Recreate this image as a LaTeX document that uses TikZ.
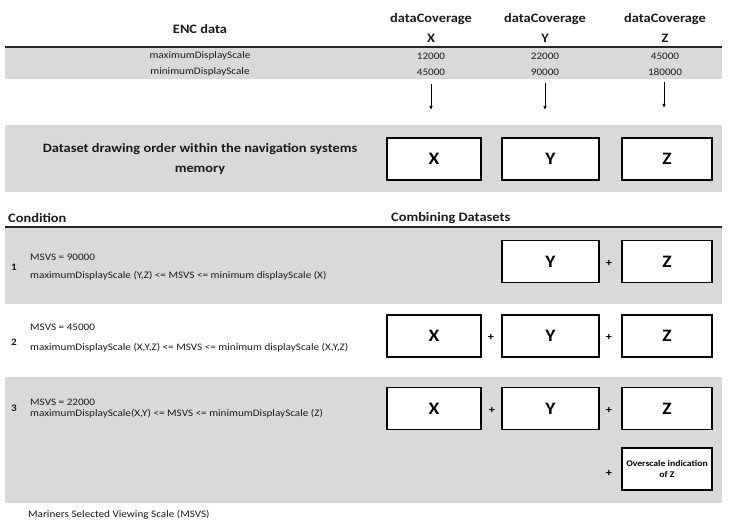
\documentclass[tikz,border=0pt]{standalone}
\usepackage{fontspec}
\setmainfont[FakeStretch=1.12]{Carlito}
\usetikzlibrary{arrows.meta}
\definecolor{bandgray}{HTML}{D9D9D9}
\definecolor{txt}{HTML}{1A1A1A}
\tikzset{
  band/.style={fill=bandgray,draw=none},
  rule/.style={line width=1.6bp,draw=black!85},
  dbox/.style={draw=black,line width=1.7bp,fill=white,minimum height=42bp,inner sep=0pt,font=\fontsize{17.5}{19}\selectfont\bfseries},
  hdr/.style={font=\fontsize{12.9}{20}\selectfont\bfseries,align=center,inner sep=0pt,text=txt},
  small/.style={font=\fontsize{10}{11}\selectfont,inner sep=0pt,text=txt},
  num/.style={font=\fontsize{10}{11}\selectfont\bfseries,inner sep=0pt,text=txt},
  plus/.style={font=\fontsize{11}{12}\selectfont\bfseries,inner sep=0pt},
  arr/.style={-{Latex[length=4bp,width=3.5bp]},line width=0.8bp}
}
\begin{document}
\begin{tikzpicture}[x=1bp,y=-1bp]
\useasboundingbox (0,0) rectangle (738,531);
% bands
\fill[band] (5,47) rectangle (722,79);
\fill[band] (5,125) rectangle (722,192);
\fill[band] (5,227) rectangle (722,304);
\fill[band] (5,377) rectangle (722,503);
\draw[rule] (5,47) -- (722,47);
\draw[rule] (5,227) -- (722,227);
% header
\node[hdr] (enc) at (200,29) {ENC data};
\node[hdr] (hx) at (431,28) {dataCoverage\\X};
\node[hdr] (hy) at (545,28) {dataCoverage\\Y};
\node[hdr] (hz) at (665,28) {dataCoverage\\Z};
\node[small] (maxl) at (200,56) {maximumDisplayScale};
\node[small] (minl) at (200,72) {minimumDisplayScale};
\node[small] (mx) at (431,56) {12000};
\node[small] (nx) at (431,72) {45000};
\node[small] (my) at (545,56) {22000};
\node[small] (ny) at (545,72) {90000};
\node[small] (mz) at (665,56) {45000};
\node[small] (nz) at (665,72) {180000};
% arrows
\coordinate (ax1) at (431,84);
\coordinate (ax2) at (431,110);
\coordinate (ay1) at (545,83);
\coordinate (ay2) at (545,110);
\coordinate (az1) at (664,82);
\coordinate (az2) at (664,108);
\draw[arr] (ax1) -- (ax2);
\draw[arr] (ay1) -- (ay2);
\draw[arr] (az1) -- (az2);
% drawing order
\node[hdr] (order) at (200,159) {Dataset drawing order within the navigation systems\\memory};
\node[dbox,minimum width=94bp] (ox) at (434,159) {X};
\node[dbox,minimum width=97bp] (oy) at (550.5,159) {Y};
\node[dbox,minimum width=90bp] (oz) at (667,159) {Z};
% section headers
\node[hdr,anchor=west] (cond) at (8,218) {Condition};
\node[hdr,anchor=west] (comb) at (391,218) {Combining Datasets};
% row 1
\node[num] (n1) at (14,267) {1};
\node[small,anchor=west] (r1a) at (30,257) {MSVS = 90000};
\node[small,anchor=west] (r1b) at (30,276) {maximumDisplayScale (Y,Z) <= MSVS <= minimum displayScale (X)};
\node[dbox,minimum width=97bp] (b1y) at (550.5,261.5) {Y};
\node[plus] (p1b) at (609,263) {+};
\node[dbox,minimum width=90bp] (b1z) at (667,261.5) {Z};
% row 2
\node[num] (n2) at (14,342) {2};
\node[small,anchor=west] (r2a) at (30,327) {MSVS = 45000};
\node[small,anchor=west] (r2b) at (30,348) {maximumDisplayScale (X,Y,Z) <= MSVS <= minimum displayScale (X,Y,Z)};
\node[dbox,minimum width=94bp] (b2x) at (434,336) {X};
\node[plus] (p2a) at (491,337) {+};
\node[dbox,minimum width=97bp] (b2y) at (550.5,336) {Y};
\node[plus] (p2b) at (609,337) {+};
\node[dbox,minimum width=90bp] (b2z) at (667,336) {Z};
% row 3
\node[num] (n3) at (14,408) {3};
\node[small,anchor=west] (r3a) at (30,402) {MSVS = 22000};
\node[small,anchor=west] (r3b) at (30,414) {maximumDisplayScale(X,Y) <= MSVS <= minimumDisplayScale (Z)};
\node[dbox,minimum width=94bp] (b3x) at (434,408.5) {X};
\node[plus] (p3a) at (492,410) {+};
\node[dbox,minimum width=97bp] (b3y) at (550.5,408.5) {Y};
\node[plus] (p3b) at (609,410) {+};
\node[dbox,minimum width=90bp] (b3z) at (667,408.5) {Z};
\node[plus] (p3c) at (609,473) {+};
\node[dbox,minimum width=90bp,font=\fontsize{8.7}{12}\selectfont\bfseries,align=center] (b3o) at (667,469) {Overscale indication\\of Z};
% footnote
\node[small,anchor=west] (foot) at (28,515) {Mariners Selected Viewing Scale (MSVS)};
\end{tikzpicture}
\end{document}
